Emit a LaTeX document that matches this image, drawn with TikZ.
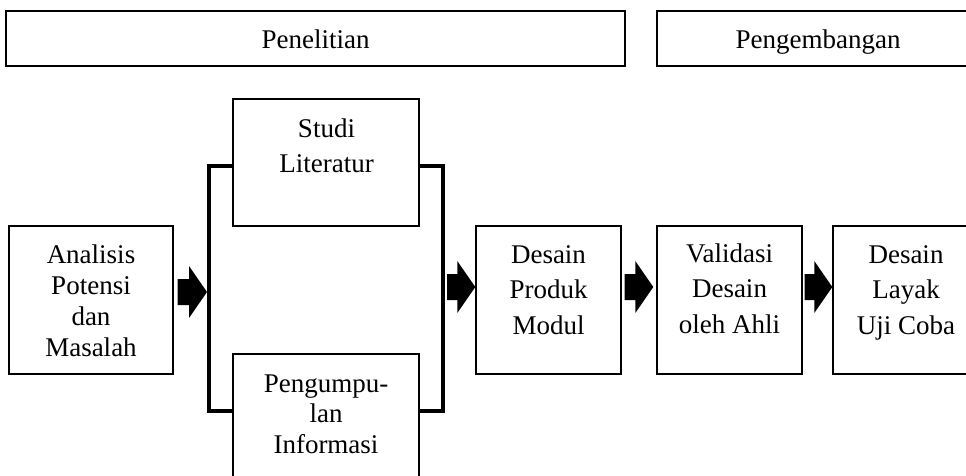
\documentclass[tikz,border=0pt]{standalone}
\usepackage{fontspec}
\setmainfont{Liberation Serif}
\usetikzlibrary{calc}
\newcommand{\mlines}[1]{\begin{tabular}[t]{@{}c@{}}#1\end{tabular}}
% block arrow from start coordinate #1 to tip coordinate #2
\newcommand{\blkarrow}[2]{\fill[black] ($(#1)+(0,-13)$) -- ($(#2)+(-18,-13)$) -- ($(#2)+(-18,-26)$) -- (#2) -- ($(#2)+(-18,26)$) -- ($(#2)+(-18,13)$) -- ($(#1)+(0,13)$) -- cycle;}
\begin{document}
\begin{tikzpicture}[x=1pt,y=-1pt,
  box/.style={draw=black,line width=1.4pt,inner sep=0pt,fill=none},
  txt/.style={anchor=base,inner sep=0pt,text=black},
  lsA/.style={font=\fontsize{27}{31.3}\selectfont},
  lsB/.style={font=\fontsize{27}{35.5}\selectfont},
  lsC/.style={font=\fontsize{27}{30.5}\selectfont},
  bracket/.style={line width=3.2pt,line join=miter}]
\useasboundingbox (0,0) rectangle (966,475);
\fill[white] (0,0) rectangle (966,475);
% header boxes
\node[box,minimum width=619pt,minimum height=55pt] (pen) at (315.5,38.5) {};
\node[box,minimum width=322pt,minimum height=55pt] (dev) at (818,38.5) {};
\node[txt,lsA] (tpen) at (315.5,48) {Penelitian};
\node[txt,lsA] (tdev) at (818,48) {Pengembangan};
% process boxes
\node[box,minimum width=164pt,minimum height=148pt] (anal) at (91,300) {};
\node[box,minimum width=186pt,minimum height=127pt] (studi) at (326,162.5) {};
\node[box,minimum width=186pt,minimum height=127pt] (peng) at (326,417.5) {};
\node[box,minimum width=145pt,minimum height=148pt] (desain) at (548.5,300) {};
\node[box,minimum width=145pt,minimum height=148pt] (valid) at (729.5,300) {};
\node[box,minimum width=145pt,minimum height=148pt] (layak) at (905.5,300) {};
% texts
\node[txt,lsA] (tanal) at (91,263) {\mlines{Analisis\\Potensi\\dan\\Masalah}};
\node[txt,lsB] (tstudi) at (326.5,137) {\mlines{Studi\\Literatur}};
\node[txt,lsC] (tpeng) at (326,392) {\mlines{Pengumpu-\\lan\\Informasi}};
\node[txt,lsB] (tdesain) at (548.5,263) {\mlines{Desain\\Produk\\Modul}};
\node[txt,lsB] (tvalid) at (729.5,262) {\mlines{Validasi\\Desain\\oleh Ahli}};
\node[txt,lsB] (tlayak) at (906,263) {\mlines{Desain\\Layak\\Uji Coba}};
% bracket helper coordinates
\coordinate (lt) at (209,166);
\coordinate (lb) at (209,411);
\coordinate (rt) at (443,166);
\coordinate (rb) at (443,411);
\coordinate (ya) at (0,292);
\coordinate (yb) at (0,287);
% brackets
\draw[bracket] (studi.west |- lt) -- (lt) -- (lb) -- (peng.west |- lb);
\draw[bracket] (studi.east |- rt) -- (rt) -- (rb) -- (peng.east |- rb);
% block arrow end points
\coordinate (a1s) at ([xshift=4pt]anal.east |- ya);
\coordinate (a1e) at ([xshift=-2pt]lt |- ya);
\coordinate (a2s) at ([xshift=4pt]rt |- yb);
\coordinate (a2e) at (desain.west |- yb);
\coordinate (a3s) at ([xshift=3pt]desain.east |- yb);
\coordinate (a3e) at ([xshift=-3pt]valid.west |- yb);
\coordinate (a4s) at ([xshift=2pt]valid.east |- yb);
\coordinate (a4e) at (layak.west |- yb);
\blkarrow{a1s}{a1e}
\blkarrow{a2s}{a2e}
\blkarrow{a3s}{a3e}
\blkarrow{a4s}{a4e}
\end{tikzpicture}
\end{document}
